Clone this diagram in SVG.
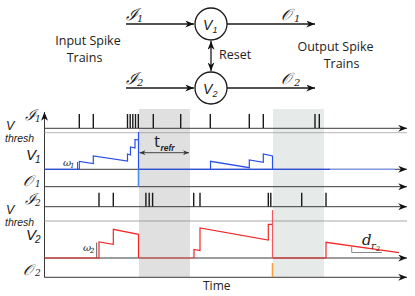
<svg xmlns="http://www.w3.org/2000/svg" width="415" height="296" viewBox="0 0 415 296">
<style>
.ax{stroke:#3a3a3a;stroke-width:1;fill:none}
.con{stroke:#1a1a1a;stroke-width:1.3;fill:none}
.sp{stroke:#1a1a1a;stroke-width:1.4}
.th{stroke:#8a8a8a;stroke-width:1.3;stroke-dasharray:1 1;fill:none}
.sans{font-family:"Open Sans","Liberation Sans",sans-serif;fill:#222}
.math{font-family:"DejaVu Serif","Liberation Serif",serif;font-style:italic;fill:#222}
.lab{font-family:"Liberation Sans","DejaVu Sans",sans-serif;font-style:italic;fill:#222}
.v1{stroke:#2a4ee8;stroke-width:1.2;fill:none}
.v2{stroke:#f02828;stroke-width:1.2;fill:none}
.node{fill:#fff;stroke:#1a1a1a;stroke-width:1.3}
</style>
<defs>
<marker id="ah" viewBox="0 0 10 8" refX="10" refY="4" markerWidth="9" markerHeight="7" markerUnits="userSpaceOnUse" orient="auto-start-reverse"><path d="M0,0 L10,4 L0,8 L3,4 z" fill="#111"/></marker>
<marker id="sm" viewBox="0 0 10 8" refX="10" refY="4" markerWidth="6" markerHeight="5" markerUnits="userSpaceOnUse" orient="auto-start-reverse"><path d="M0,0 L10,4 L0,8 L3,4 z" fill="#333"/></marker>
</defs>

<!-- top network -->
<g id="connectors">
<path class="con" d="M126,24 H194" marker-end="url(#ah)"/>
<path class="con" d="M227,24 H315" marker-end="url(#ah)"/>
<path class="con" d="M126,88 H194" marker-end="url(#ah)"/>
<path class="con" d="M227,88 H315" marker-end="url(#ah)"/>
<path class="con" d="M211,41 V71" marker-start="url(#ah)" marker-end="url(#ah)"/>
</g>
<g id="V1"><circle class="node" cx="211" cy="24" r="16"/><text class="lab" x="203" y="30" font-size="14">V</text><text class="lab" x="212.5" y="33" font-size="9" font-style="normal">1</text></g>
<g id="V2"><circle class="node" cx="211" cy="88" r="16"/><text class="lab" x="203" y="94" font-size="14">V</text><text class="lab" x="212.5" y="97" font-size="9" font-style="normal">2</text></g>
<g id="labels-top">
<text class="math" x="126" y="20" font-size="16">ℐ</text><text class="math" x="137" y="22" font-size="10" font-style="normal">1</text>
<text class="math" x="281" y="20" font-size="16">𝒪</text><text class="math" x="294" y="22" font-size="10" font-style="normal">1</text>
<text class="math" x="126" y="84" font-size="16">ℐ</text><text class="math" x="137" y="86" font-size="10" font-style="normal">2</text>
<text class="math" x="281" y="84" font-size="16">𝒪</text><text class="math" x="294" y="86" font-size="10" font-style="normal">2</text>
<text class="sans" font-size="12.5" text-anchor="middle"><tspan x="88" y="45">Input Spike</tspan><tspan x="84.5" y="62">Trains</tspan></text>
<text class="sans" font-size="12.5" x="219" y="59">Reset</text>
<text class="sans" font-size="12.5" text-anchor="middle"><tspan x="335.5" y="51">Output Spike</tspan><tspan x="341.5" y="68">Trains</tspan></text>
</g>

<!-- timing plot -->
<g id="shades">
<rect x="139" y="109" width="51" height="168" fill="#e0e0e0"/>
<rect x="273" y="109" width="51" height="168" fill="#e6eae8"/>
</g>
<g id="axes">
<path class="ax" d="M44.5,277.5 V112" marker-end="url(#ah)"/>
<path class="ax" d="M44.5,128.3 H407" marker-end="url(#ah)"/>
<path class="th" d="M44.5,132.7 H407"/>
<path class="ax" d="M44.5,169.3 H407" marker-end="url(#ah)"/>
<path class="ax" d="M44.5,186.7 H407" marker-end="url(#ah)"/>
<path class="ax" d="M44.5,206.7 H407" marker-end="url(#ah)"/>
<path class="th" d="M44.5,221 H407"/>
<path class="ax" d="M44.5,258 H407" marker-end="url(#ah)"/>
<path class="ax" d="M44.5,277.3 H407" marker-end="url(#ah)"/>
</g>
<g id="spikes-I1" class="sp">
<path d="M79.3,114 V128 M93.3,114 V128 M127.5,114 V128 M130.2,114 V128 M132.8,114 V128 M135.5,114 V128 M138.3,114 V128 M153.3,114 V128 M180.7,114 V128 M210.3,114 V128 M249.3,114 V128 M263.3,114 V128 M315,114 V128 M319.3,114 V128"/>
</g>
<g id="spikes-I2" class="sp">
<path d="M99,192.7 V206.5 M113.3,192.7 V206.5 M145.9,192.7 V206.5 M149.2,192.7 V206.5 M152.6,192.7 V206.5 M193.7,192.7 V206.5 M200,192.7 V206.5 M268.3,192.7 V206.5 M270.8,192.7 V206.5 M301.7,192.7 V206.5 M326,192.7 V206.5"/>
</g>
<g id="trace-V1">
<path class="v1" d="M44.5,169.3 H79.3 V161.5 L93.3,163.5 V156 L127.5,161 V154 L130.5,155 V147 L135,148 V139.5 L138.5,140 V132 V169.3 H330"/>
<path class="v1" d="M210.5,169.3 V161.3 L249.3,167.7 V160 L263.3,162.3 V154 L272.5,156 V169.3"/>
<path d="M330,169.3 H395" stroke="#7f9cf0" stroke-width="1.2"/>
<path d="M138.5,169.3 V186.7" stroke="#4a8fe8" stroke-width="1.6"/>
</g>
<g id="trace-V2">
<path class="v2" d="M44.5,258 H99 V242 L113.3,244.3 V229.3 L138.5,234.3 V258"/>
<path d="M138.5,258 H194" stroke="#f05a5a" stroke-width="1.2"/>
<path class="v2" d="M194,258 V249.5 L200,250.5 V228 L268.3,240 V224.3 H272.5"/>
<path d="M272.5,210 V258" stroke="#f05a5a" stroke-width="1.2"/>
<path class="v2" d="M272.5,258 H326 V242.3 L399,252.7"/>
<path d="M272.5,263 V277" stroke="#f4a040" stroke-width="1.6"/>
</g>
<g id="annotations">
<path d="M139.5,152.7 H189" stroke="#333" stroke-width="0.9" marker-start="url(#sm)" marker-end="url(#sm)"/>
<text class="sans" x="154" y="146.5" font-size="17">t</text>
<text class="lab" x="160.5" y="151" font-size="8.5" font-weight="bold">refr</text>
<path d="M77.5,162 V169" stroke="#333" stroke-width="0.8"/>
<text class="math" x="63" y="166" font-size="10">ω</text><text class="math" x="70" y="168" font-size="7" font-style="normal">1</text>
<path d="M96.7,242.5 V257.5" stroke="#333" stroke-width="0.8"/>
<text class="math" x="83" y="251" font-size="10">ω</text><text class="math" x="90" y="253" font-size="7" font-style="normal">2</text>
<path d="M351.7,246.5 V252.5 H382" stroke="#888" stroke-width="1" fill="none"/>
<text class="math" x="362" y="245" font-size="15">d</text><text class="math" x="371" y="248.5" font-size="10">r</text><text class="math" x="376" y="251" font-size="6.5" font-style="normal">2</text>
</g>
<g id="labels-left">
<text class="math" x="25" y="120" font-size="15">ℐ</text><text class="math" x="35" y="122" font-size="9" font-style="normal">1</text>
<text class="lab" x="6" y="129.5" font-size="12.5">V</text><text class="lab" x="5" y="141.5" font-size="10.5">thresh</text>
<text class="lab" x="26" y="160" font-size="15">V</text><text class="lab" x="35" y="163" font-size="10" font-style="normal">1</text>
<text class="math" x="23" y="186" font-size="15">𝒪</text><text class="math" x="35" y="187" font-size="9" font-style="normal">1</text>
<text class="math" x="25" y="204" font-size="15">ℐ</text><text class="math" x="35" y="206" font-size="9" font-style="normal">2</text>
<text class="lab" x="6" y="214" font-size="12.5">V</text><text class="lab" x="5" y="226" font-size="10.5">thresh</text>
<text class="lab" x="26" y="240" font-size="15">V</text><text class="lab" x="35" y="243" font-size="10" font-style="normal">2</text>
<text class="math" x="23" y="275" font-size="15">𝒪</text><text class="math" x="35" y="276" font-size="9" font-style="normal">2</text>
<text class="sans" x="203" y="290" font-size="12">Time</text>
</g>
</svg>
